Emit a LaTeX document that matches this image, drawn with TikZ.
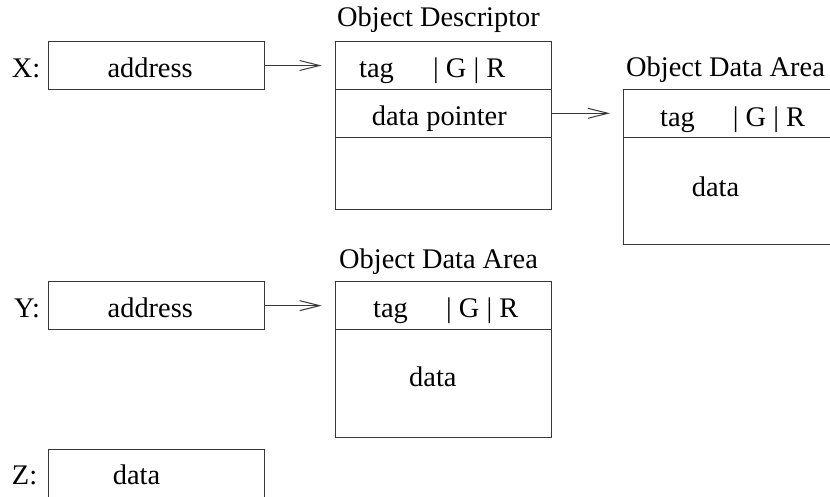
\documentclass[tikz,border=0pt]{standalone}
\usepackage{fontspec}
\setmainfont{Liberation Serif}
\usetikzlibrary{arrows.meta}
\begin{document}
\begin{tikzpicture}[x=1pt,y=-1pt,
  cell/.style={draw=black!78,line width=1pt,rectangle,inner sep=0pt,anchor=north west,minimum width=216pt},
  txt/.style={anchor=base west,inner sep=0pt,font=\fontsize{28.4}{34}\selectfont},
  ptr/.style={draw=black!78,line width=1pt,-{Straight Barb[length=20pt,width=10pt,line width=1pt]}}]
\clip (0,0) rectangle (830,496);
\fill[white] (0,0) rectangle (830,496);
% X
\node[cell,minimum height=47.6pt] (xbox) at (47.5,41.2) {};
\node[txt] (xlab) at (11.7,77.7) {X:};
\node[txt] (xaddr) at (107.3,77.7) {address};
% Object Descriptor
\node[txt] (odlab) at (337,26.7) {Object Descriptor};
\node[cell,minimum height=47.6pt] (od1) at (335.3,41.2) {};
\node[cell,minimum height=48pt] (od2) at (335.3,88.8) {};
\node[cell,minimum height=72pt] (od3) at (335.3,136.8) {};
\node[txt] (odtag) at (359,77.7) {tag};
\node[txt] (odgr) at (433,77.7) {| G | R};
\node[txt] (odptr) at (371.7,125.3) {data pointer};
% right Object Data Area
\node[txt] (ralab) at (626,76.7) {Object Data Area};
\node[cell,minimum height=47.7pt] (ra1) at (622.7,89.3) {};
\node[cell,minimum height=107.3pt] (ra2) at (622.7,137) {};
\node[txt] (ratag) at (660,126) {tag};
\node[txt] (ragr) at (732.7,126) {| G | R};
\node[txt] (radata) at (691.7,196.7) {data};
% Y
\node[cell,minimum height=47.7pt] (ybox) at (47.5,281.3) {};
\node[txt] (ylab) at (14,317.3) {Y:};
\node[txt] (yaddr) at (107.5,317.3) {address};
% middle Object Data Area
\node[txt] (malab) at (339,268) {Object Data Area};
\node[cell,minimum height=47.7pt] (ma1) at (335.3,281.3) {};
\node[cell,minimum height=107.7pt] (ma2) at (335.3,329) {};
\node[txt] (matag) at (373,317.3) {tag};
\node[txt] (magr) at (446,317.3) {| G | R};
\node[txt] (madata) at (409,386.7) {data};
% Z
\node[cell,minimum height=47.7pt] (zbox) at (47.5,449) {};
\node[txt] (zlab) at (11.7,484) {Z:};
\node[txt] (zdata) at (112.7,484) {data};
% pointers
\draw[ptr,shorten >=13.6pt] (xbox.east) -- (od1.west);
\draw[ptr,shorten >=12.7pt] (od2.east) -- (od2.east -| ra1.west);
\draw[ptr,shorten >=13.6pt] (ybox.east) -- (ma1.west);
\end{tikzpicture}
\end{document}
